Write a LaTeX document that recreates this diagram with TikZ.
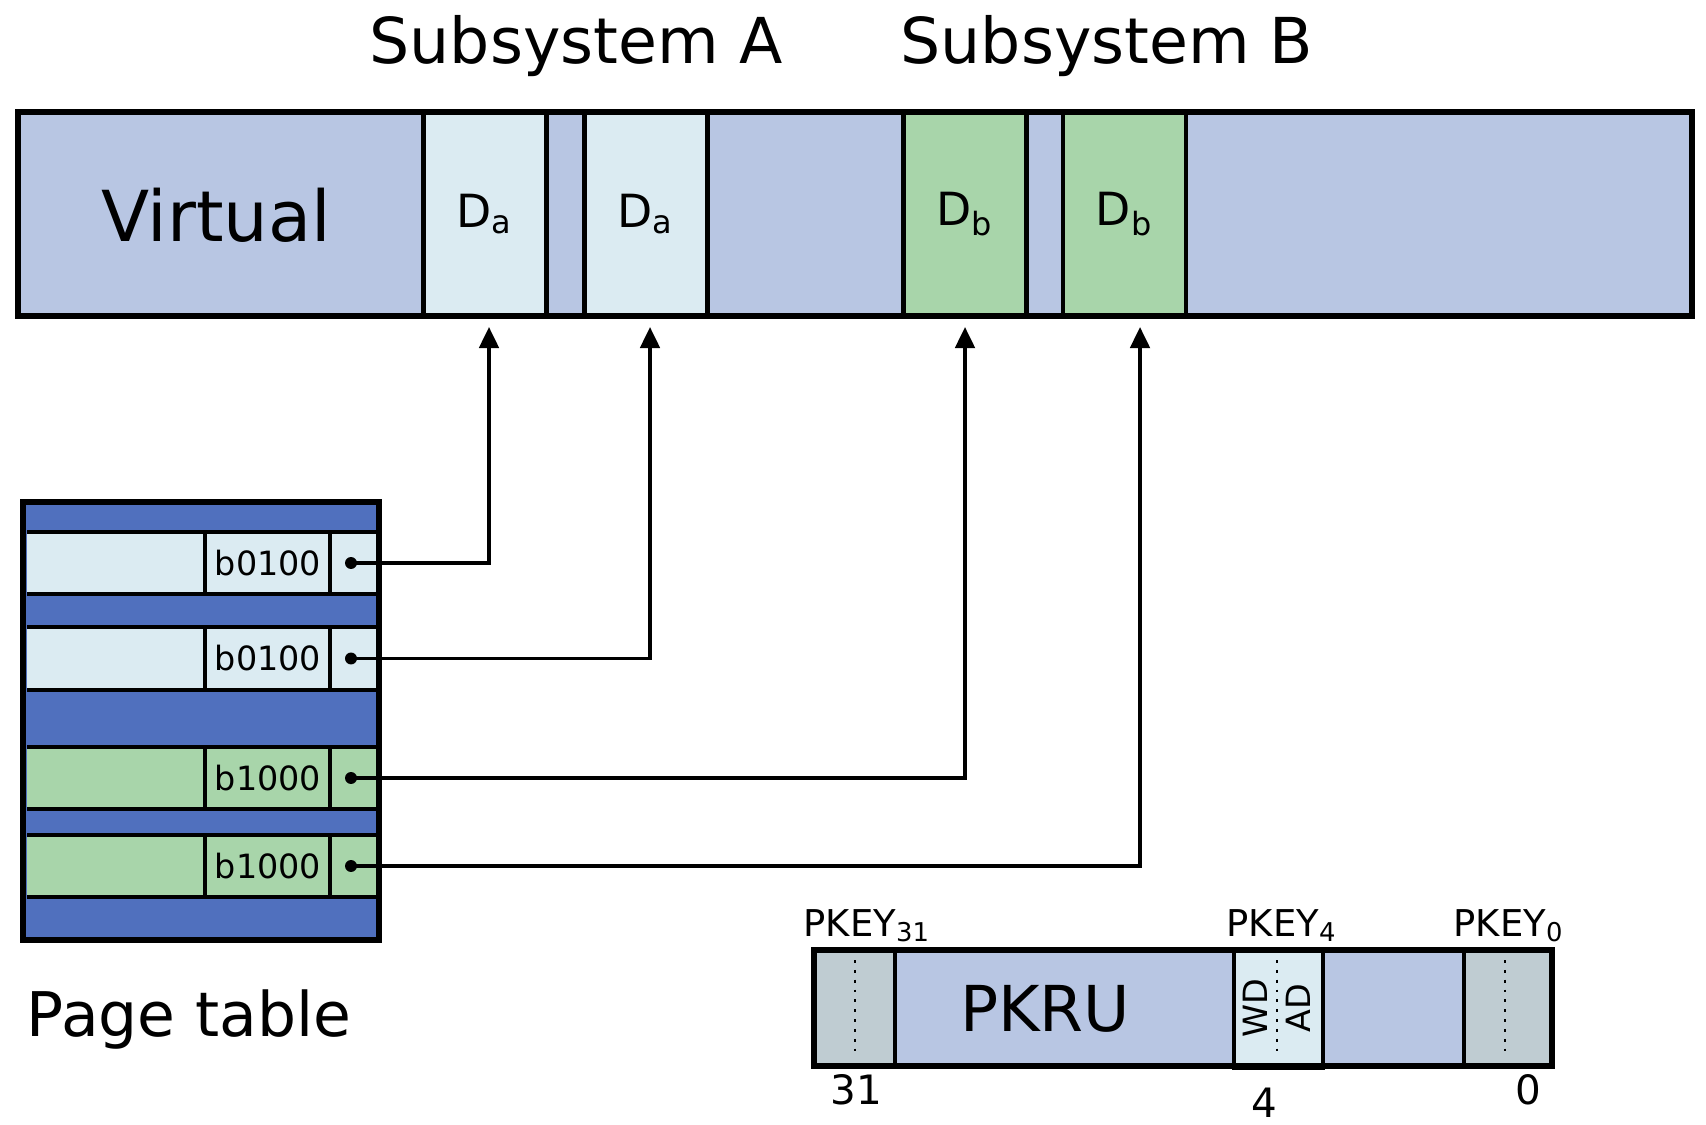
\documentclass[tikz,border=0pt]{standalone}
\usepackage{fontspec}
\setmainfont{DejaVu Sans}
\usetikzlibrary{arrows.meta}

\definecolor{virtfill}{HTML}{B8C6E3}
\definecolor{domafill}{HTML}{DBEBF2}
\definecolor{dombfill}{HTML}{A8D5AA}
\definecolor{ptfill}{HTML}{5070BE}
\definecolor{keyfill}{HTML}{BFCCD2}

\tikzset{
  dombox/.style={draw,line width=1.2pt,inner sep=0pt,minimum width=1.23cm,minimum height=2.04cm,font=\fontsize{13}{15}\selectfont},
  ptrow/.style={line width=0.9pt},
  link/.style={line width=1.1pt,-{Triangle[width=5.5pt,length=6pt]},shorten >=2.5pt},
  big/.style={font=\fontsize{18}{21}\selectfont},
  small/.style={font=\fontsize{10.5}{12}\selectfont,inner sep=0pt},
}

\begin{document}
\begin{tikzpicture}[x=0.01cm,y=-0.01cm]
    %\draw[help lines] (0,0) grid (1706,1124);
    \useasboundingbox (0,0) rectangle (1706,1124);

    % titles
    \node[big,anchor=base] (suba) at (576,63) {Subsystem A};
    \node[big,anchor=base] (subb) at (1107,63) {Subsystem B};

    % virtual address space
    \draw[fill=virtfill,line width=1.5pt] (18,112) rectangle (1692,316);
    \node[anchor=base,font=\fontsize{20}{24}\selectfont] (virt) at (216,241) {Virtual};
    \node[dombox,fill=domafill] (da1) at (485,214) {D\textsubscript{a}};
    \node[dombox,fill=domafill] (da2) at (646,214) {D\textsubscript{a}};
    \node[dombox,fill=dombfill] (db1) at (965,214) {D\textsubscript{b}};
    \node[dombox,fill=dombfill] (db2) at (1124.5,214) {D\textsubscript{b}};
    \draw[line width=1.5pt] (18,112) rectangle (1692,316);

    % page table
    \draw[fill=ptfill,line width=1.6pt] (23,502) rectangle (379,940);
    \foreach \top/\bot/\col/\lab/\nm in {532/594/domafill/b0100/r1,627/690/domafill/b0100/r2,
                                         747/809/dombfill/b1000/r3,835/897/dombfill/b1000/r4}
    {
       \fill[\col] (27,\top) rectangle (376,\bot);
       \draw[ptrow] (27,\top) -- (376,\top) (27,\bot) -- (376,\bot)
                    (205,\top) -- (205,\bot) (330,\top) -- (330,\bot);
       \node[font=\fontsize{9.5}{11}\selectfont] (\nm-lab) at (268,{(\top+\bot)/2}) {\lab};
       \coordinate (\nm) at (351,{(\top+\bot)/2});
       \fill (\nm) circle (1.7pt);
    }
    \node[anchor=base west,inner sep=0pt,font=\fontsize{17.5}{21}\selectfont] (ptlab) at (26,1036) {Page table};

    % pointers
    \draw[link] (r1) -| ([xshift=0.04cm]da1.south);
    \draw[link] (r2) -| ([xshift=0.04cm]da2.south);
    \draw[link] (r3) -| (db1.south);
    \draw[link] (r4) -| ([xshift=0.155cm]db2.south);

    % PKRU register
    \draw[fill=virtfill,line width=1.5pt] (814,950) rectangle (1552,1066);
    \draw[fill=keyfill,line width=1.2pt] (814,950) rectangle (895,1066);
    \draw[fill=keyfill,line width=1.2pt] (1464,950) rectangle (1552,1066);
    \draw[fill=domafill,line width=1.2pt] (1234,951) rectangle (1323,1068);
    \draw[line width=1.5pt] (814,950) rectangle (1552,1066);
    \draw[dotted,line width=0.8pt] (855,960) -- (855,1058);
    \draw[dotted,line width=0.8pt] (1277,960) -- (1277,1058);
    \draw[dotted,line width=0.8pt] (1505,960) -- (1505,1058);
    \node[big,anchor=base] (pkru) at (1045,1031) {PKRU};
    \node[rotate=90,font=\fontsize{9.5}{11}\selectfont] (wd) at (1255,1008) {WD};
    \node[rotate=90,font=\fontsize{9.5}{11}\selectfont] (ad) at (1298,1008) {AD};
    \node[small,anchor=base west] (k31) at (803,936) {PKEY\textsubscript{31}};
    \node[small,anchor=base west] (k4) at (1226,936) {PKEY\textsubscript{4}};
    \node[small,anchor=base west] (k0) at (1453,936) {PKEY\textsubscript{0}};
    \node[anchor=base,inner sep=0pt,font=\fontsize{11.5}{13}\selectfont] (b31) at (856,1104) {31};
    \node[anchor=base,inner sep=0pt,font=\fontsize{11.5}{13}\selectfont] (b4) at (1264,1117) {4};
    \node[anchor=base,inner sep=0pt,font=\fontsize{11.5}{13}\selectfont] (b0) at (1528,1104) {0};
\end{tikzpicture}
\end{document}
